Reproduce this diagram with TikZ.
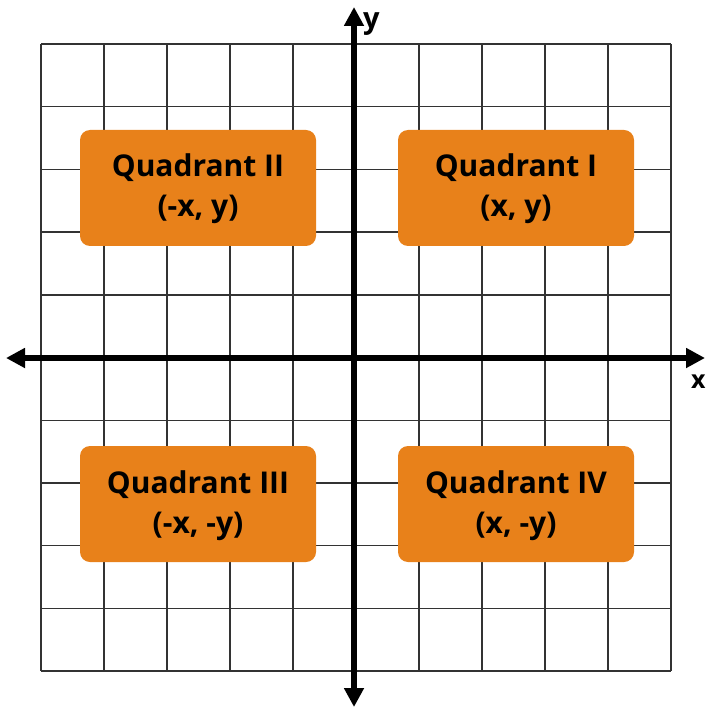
\documentclass[tikz,border=0pt]{standalone}
\usepackage{fontspec}
\setmainfont{Open Sans}
\usetikzlibrary{arrows.meta}
\definecolor{quadorange}{HTML}{E8811A}
\definecolor{gridgray}{HTML}{333333}
\tikzset{
  gridline/.style={draw=gridgray, line width=1.4pt},
  axisline/.style={draw=black, line width=6.3pt,
    {Triangle[length=19pt,width=19pt]}-{Triangle[length=19pt,width=19pt]}},
  quadbox/.style={fill=quadorange, draw=none, rounded corners=10pt,
    minimum width=236pt, minimum height=116pt},
  quadtext/.style={font=\bfseries\fontsize{30}{40}\selectfont, align=center,
    anchor=base, text=black},
  axislabel/.style={font=\bfseries\fontsize{29}{32}\selectfont, inner sep=0pt}
}
\begin{document}
\begin{tikzpicture}[x=1pt,y=-1pt]
\useasboundingbox (0,0) rectangle (708,708);
\fill[white] (0,0) rectangle (708,708);
% grid
\foreach \i in {0,...,10} {
  \draw[gridline] ({41+63*\i},44) -- ({41+63*\i},671);
  \draw[gridline] (41,{44+62.7*\i}) -- (671,{44+62.7*\i});
}
% axes
\coordinate (ytop) at (354,7);
\coordinate (ybot) at (354,707);
\coordinate (xleft) at (6,358);
\coordinate (xright) at (705,358);
\draw[axisline] (xleft) -- (xright);
\draw[axisline] (ybot) -- (ytop);
\node[axislabel, anchor=base west] (ylab) at (363,29) {y};
\node[axislabel, font=\bfseries\fontsize{25}{28}\selectfont, anchor=base west] (xlab) at (691,388) {x};
% quadrant boxes
\node[quadbox] (q2) at (198,188) {};
\node[quadbox] (q1) at (516,188) {};
\node[quadbox] (q3) at (198,504) {};
\node[quadbox] (q4) at (516,504) {};
\node[quadtext] (t2) at ([yshift=-29pt]q2.center) {Quadrant II\\(-x, y)};
\node[quadtext] (t1) at ([yshift=-29pt]q1.center) {Quadrant I\\(x, y)};
\node[quadtext] (t3) at ([yshift=-29pt]q3.center) {Quadrant III\\(-x, -y)};
\node[quadtext] (t4) at ([yshift=-29pt]q4.center) {Quadrant IV\\(x, -y)};
\end{tikzpicture}
\end{document}
